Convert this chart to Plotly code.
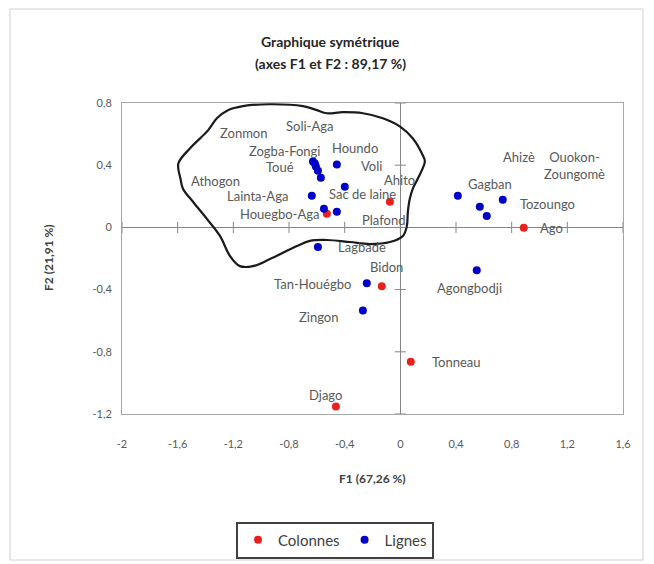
import plotly.graph_objects as go

# ---------------- data ----------------
lignes_names = ["Zonmon", "Soli-Aga", "Zogba-Fongi", "Toué", "Athogon", "Houndo", "Voli",
                "Lainta-Aga", "Houegbo-Aga", "Ahito", "Lagbade", "Tan-Houégbo", "Zingon",
                "Agongbodji", "Gagban", "Ahizè", "Tozoungo", "Ouokon-<br>Zoungomè"]
lignes_f1 = [-0.628, -0.614, -0.607, -0.592, -0.571, -0.456, -0.399,
             -0.636, -0.549, -0.456, -0.592, -0.241, -0.269,
             0.549, 0.413, 0.571, 0.621, 0.736]
lignes_f2 = [0.424, 0.411, 0.391, 0.365, 0.320, 0.404, 0.262,
             0.204, 0.120, 0.100, -0.126, -0.359, -0.534,
             -0.275, 0.204, 0.133, 0.074, 0.178]

colonnes_names = ["Ago", "Tonneau", "Djago", "Bidon", "Sac de laine", "Plafond"]
colonnes_f1 = [0.887, 0.075, -0.463, -0.133, -0.075, -0.528]
colonnes_f2 = [-0.003, -0.864, -1.152, -0.378, 0.165, 0.087]

x_tickvals = [-2, -1.6, -1.2, -0.8, -0.4, 0, 0.4, 0.8, 1.2, 1.6]
x_ticktext = ["-2", "-1,6", "-1,2", "-0,8", "-0,4", "0", "0,4", "0,8", "1,2", "1,6"]
y_tickvals = [-1.2, -0.8, -0.4, 0, 0.4, 0.8]
y_ticktext = ["-1,2", "-0,8", "-0,4", "0", "0,4", "0,8"]

# hand-drawn outline around the left cluster (in F1/F2 units)
outline_f1 = [-1.382, -1.318, -1.239, -1.131, -0.937, -0.700, -0.600, -0.528, -0.413, -0.269,
              -0.126, -0.004, 0.090, 0.162, 0.176, 0.126, 0.090, 0.068, 0.054, 0.047,
              0.018, -0.075, -0.219, -0.363, -0.528, -0.650, -0.743, -0.937, -1.059, -1.153,
              -1.224, -1.296, -1.390, -1.490, -1.562, -1.580, -1.595, -1.512, -1.382]
outline_f2 = [0.624, 0.702, 0.754, 0.780, 0.792, 0.780, 0.754, 0.734, 0.741, 0.734,
              0.702, 0.650, 0.572, 0.462, 0.424, 0.314, 0.249, 0.184, 0.100, 0.010,
              -0.055, -0.094, -0.107, -0.094, -0.081, -0.087, -0.120, -0.204, -0.249, -0.249,
              -0.184, -0.055, 0.055, 0.165, 0.249, 0.314, 0.411, 0.508, 0.624]

# label offsets in pixels (style)
lignes_offsets = [(-69, 28), (-5, 37), (-31, 16), (-38, 4), (-105, -3), (18, 17), (27, 21),
                  (-54, 0), (-44, -5), (63, 32), (44, 0), (-54, -1), (-44, -7),
                  (-7, -18), (32, 12), (39, 50), (61, 12), (72, 34)]
colonnes_offsets = [(28, 0), (46, 0), (-10, 12), (5, 19), (-27, 8), (57, -6)]

# ---------------- layout geometry ----------------
BODY = 8                      # default page margin of the html body
W, H = 654 - BODY, 564 - BODY
PL, PR, PT, PB = 122, 623, 103, 414  # plot area, page pixels


def px(xp):
    return (xp - PL) / (PR - PL)


def py(yp):
    return (PB - yp) / (PB - PT)


BLUE = "#0000C8"
RED = "#E8201E"
TXT = "#595959"
FONT = "Lato"

fig = go.Figure()

fig.add_trace(go.Scatter(x=outline_f1, y=outline_f2, mode="lines",
                         line=dict(color="#1a1a1a", width=2.2, shape="spline", smoothing=1.0),
                         showlegend=False, hoverinfo="skip"))

# tick marks crossing the zero axes
fig.add_trace(go.Scatter(x=x_tickvals, y=[0] * len(x_tickvals), mode="markers",
                         marker=dict(symbol="line-ns", size=8, line=dict(color="#868686", width=1)),
                         showlegend=False, hoverinfo="skip"))
fig.add_trace(go.Scatter(x=[0] * len(y_tickvals), y=y_tickvals, mode="markers",
                         marker=dict(symbol="line-ew", size=8, line=dict(color="#868686", width=1)),
                         showlegend=False, hoverinfo="skip"))

fig.add_trace(go.Scatter(x=colonnes_f1, y=colonnes_f2, mode="markers", name="Colonnes",
                         marker=dict(color=RED, size=8)))
fig.add_trace(go.Scatter(x=lignes_f1, y=lignes_f2, mode="markers", name="Lignes",
                         marker=dict(color=BLUE, size=8)))

annotations = []
for names, xs, ys, offs in [(lignes_names, lignes_f1, lignes_f2, lignes_offsets),
                            (colonnes_names, colonnes_f1, colonnes_f2, colonnes_offsets)]:
    for n, xv, yv, (dx, dy) in zip(names, xs, ys, offs):
        annotations.append(dict(x=xv, y=yv, xref="x", yref="y", text=n, showarrow=False,
                                xshift=dx, yshift=dy, xanchor="center", yanchor="middle",
                                font=dict(family=FONT, size=13, color=TXT)))

annotations += [
    dict(x=px(330), y=py(42), xref="paper", yref="paper", text="<b>Graphique symétrique</b>",
         showarrow=False, xanchor="center", yanchor="middle",
         font=dict(family=FONT, size=14, color="#262626")),
    dict(x=px(330), y=py(64), xref="paper", yref="paper", text="<b>(axes F1 et F2 : 89,17 %)</b>",
         showarrow=False, xanchor="center", yanchor="middle",
         font=dict(family=FONT, size=14, color="#262626")),
    dict(x=px(372), y=py(478), xref="paper", yref="paper", text="<b>F1 (67,26 %)</b>",
         showarrow=False, xanchor="center", yanchor="middle",
         font=dict(family=FONT, size=12, color="#404040")),
    dict(x=px(48), y=py(258), xref="paper", yref="paper", text="<b>F2 (21,91 %)</b>",
         showarrow=False, xanchor="center", yanchor="middle", textangle=-90,
         font=dict(family=FONT, size=12, color="#404040")),
]

fig.update_layout(
    width=W, height=H,
    margin=dict(l=PL - BODY, r=W - (PR - BODY), t=PT - BODY, b=H - (PB - BODY), pad=0,
                autoexpand=False),
    paper_bgcolor="white", plot_bgcolor="white",
    font=dict(family=FONT, size=11, color=TXT),
    annotations=annotations,
    showlegend=True,
    legend=dict(orientation="h", x=px(335), y=py(540), xanchor="center", yanchor="middle",
                bordercolor="#404040", borderwidth=2, bgcolor="white",
                font=dict(family=FONT, size=15, color="#404040"),
                itemsizing="trace", itemwidth=30, tracegroupgap=0),
    shapes=[dict(type="rect", xref="paper", yref="paper",
                 x0=px(10), x1=px(643), y0=py(560), y1=py(9),
                 line=dict(color="#D0D0D0", width=1), layer="below")],
)

fig.update_xaxes(range=[-2, 1.6], tickvals=x_tickvals, ticktext=x_ticktext,
                 showgrid=False, zeroline=True, zerolinecolor="#868686", zerolinewidth=1,
                 showline=True, linecolor="#A6A6A6", linewidth=1, mirror=True,
                 ticks="outside", ticklen=20, tickcolor="rgba(0,0,0,0)",
                 tickfont=dict(family=FONT, size=11, color=TXT))
fig.update_yaxes(range=[-1.2, 0.8], tickvals=y_tickvals, ticktext=y_ticktext,
                 showgrid=False, zeroline=True, zerolinecolor="#868686", zerolinewidth=1,
                 showline=True, linecolor="#A6A6A6", linewidth=1, mirror=True,
                 ticks="outside", ticklen=7, tickcolor="rgba(0,0,0,0)",
                 tickfont=dict(family=FONT, size=11, color=TXT))

fig.write_html("out.html")
